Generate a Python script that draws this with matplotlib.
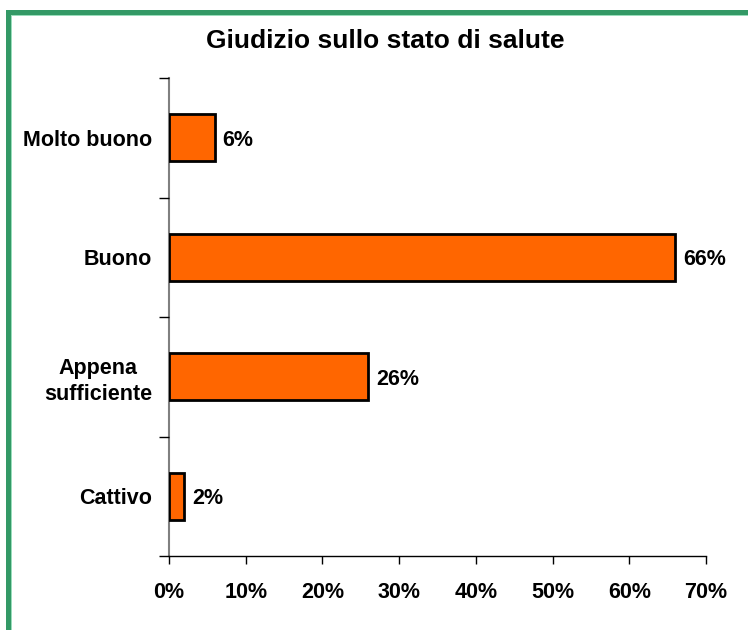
import matplotlib
matplotlib.use("Agg")
import matplotlib.pyplot as plt
from matplotlib.patches import Rectangle
from matplotlib.ticker import FixedLocator, FuncFormatter

categories = ["Molto buono", "Buono", "Appena\nsufficiente", "Cattivo"]
values = [6, 66, 26, 2]
xticks = [0, 10, 20, 30, 40, 50, 60, 70]

plt.rcParams['font.family'] = ['Liberation Sans', 'DejaVu Sans']

fig = plt.figure(figsize=(7.48, 6.3), dpi=100)
W, H = 748, 630
# green border (top and left visible)
fig.patches.append(Rectangle((6 / W, 0), 5 / W, (H - 10) / H, transform=fig.transFigure,
                             color="#339966", lw=0, zorder=0))
fig.patches.append(Rectangle((6 / W, (H - 15) / H), (W - 6) / W, 5 / H, transform=fig.transFigure,
                             color="#339966", lw=0, zorder=0))
fig.patches.append(Rectangle((11 / W, 0), 1 / W, (H - 15) / H, transform=fig.transFigure,
                             color="#99ddbb", lw=0, zorder=0))
fig.patches.append(Rectangle((11 / W, (H - 16) / H), (W - 11) / W, 1 / H, transform=fig.transFigure,
                             color="#99ddbb", lw=0, zorder=0))

ax = fig.add_axes([169 / W, 74 / H, (706 - 169) / W, (556 - 78) / H])
pos = list(range(len(categories)))[::-1]
bars = ax.barh(pos, values, height=0.39, color="#FF6600", edgecolor="black", linewidth=2)
for p, v in zip(pos, values):
    ax.text(v + 1.0, p, f"{v}%", va="center_baseline", ha="left", fontsize=15.5, fontweight="bold")

ax.set_xlim(0, 70)
ax.set_ylim(-0.5, 3.5)
ax.set_xticks(xticks)
ax.xaxis.set_major_formatter(FuncFormatter(lambda x, _: f"{int(x)}%"))
ax.set_yticks(pos)
ax.set_yticklabels(categories, fontsize=15.5, fontweight="bold", linespacing=1.3)
ax.yaxis.set_minor_locator(FixedLocator([-0.5, 0.5, 1.5, 2.5, 3.5]))
ax.tick_params(axis="y", which="major", length=0, pad=12)
ax.tick_params(axis="y", which="minor", length=7, width=1, color="black")
ax.tick_params(axis="x", which="major", length=6, width=1, pad=13, labelsize=15.5)
for lab in ax.get_xticklabels():
    lab.set_fontweight("bold")
for lab in ax.get_yticklabels():
    lab.set_multialignment("center")

ax.spines["top"].set_visible(False)
ax.spines["right"].set_visible(False)
ax.spines["left"].set_color("#808080")
ax.spines["left"].set_linewidth(1.5)
ax.spines["bottom"].set_color("black")
ax.spines["bottom"].set_linewidth(1)
ax.spines["left"].set_zorder(0)

fig.text(385 / W, 1 - 41 / H, "Giudizio sullo stato di salute", ha="center", va="center",
         fontsize=19, fontweight="bold")

fig.savefig("out.png", dpi=100)
